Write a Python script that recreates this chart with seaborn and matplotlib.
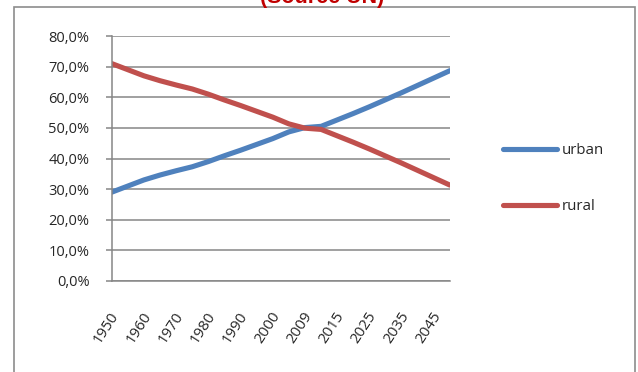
import pandas as pd
import matplotlib
matplotlib.use("Agg")
import matplotlib.pyplot as plt
import matplotlib.transforms as mtransforms
from matplotlib.lines import Line2D
from matplotlib.patches import Rectangle
from matplotlib.ticker import FuncFormatter
import seaborn as sns

# Datos (porcentaje de poblacion)
years = ["1950", "1955", "1960", "1965", "1970", "1975", "1980", "1985", "1990", "1995",
         "2000", "2005", "2009", "2010", "2015", "2020", "2025", "2030", "2035", "2040",
         "2045", "2050"]
urban = [29.0, 31.0, 33.0, 34.6, 36.0, 37.3, 39.0, 40.9, 42.7, 44.6,
         46.5, 48.7, 50.1, 50.5, 52.6, 54.7, 56.9, 59.2, 61.5, 63.9,
         66.3, 68.7]
rural = [71.0, 69.0, 67.0, 65.4, 64.0, 62.7, 61.0, 59.1, 57.3, 55.4,
         53.5, 51.3, 49.9, 49.5, 47.4, 45.3, 43.1, 40.8, 38.5, 36.1,
         33.7, 31.3]
series_names = ["urban", "rural"]
colors = {"urban": "#4F81BD", "rural": "#C0504D"}

df = pd.DataFrame({
    "pos": list(range(len(years))) * 2,
    "share": urban + rural,
    "area": ["urban"] * len(years) + ["rural"] * len(years),
})

sns.set_style("white")
plt.rcParams["font.family"] = ["Open Sans", "DejaVu Sans"]

fig = plt.figure(figsize=(6.38, 3.72), dpi=100)
ax = fig.add_axes([111.7 / 638, 91 / 372, 338.3 / 638, 245 / 372])

sns.lineplot(data=df, x="pos", y="share", hue="area", hue_order=series_names,
             palette=colors, linewidth=3.7, legend=False, ax=ax)
for ln in ax.get_lines():
    ln.set_solid_capstyle("round")
    ln.set_solid_joinstyle("round")

grey = "#868686"
ax.set_xlim(0, len(years) - 1)
ax.set_ylim(0, 80)
ax.set_yticks(range(0, 81, 10))
ax.yaxis.set_major_formatter(FuncFormatter(lambda v, p: f"{v:.1f}%".replace(".", ",")))
ax.grid(axis="y", color=grey, linewidth=1.1)
ax.set_axisbelow(True)

ax.set_xticks(range(len(years)))
ax.set_xticklabels([y if i % 2 == 0 else "" for i, y in enumerate(years)],
                   rotation=57, ha="right", va="center", rotation_mode="anchor")
ax.tick_params(axis="x", length=4, width=1.1, color=grey, pad=19, labelsize=10.8)
ax.tick_params(axis="y", length=4, width=1.1, color=grey, pad=12, labelsize=10.5,
               left=True)
# pequeño desplazamiento a la derecha de las etiquetas del eje x
shift = mtransforms.ScaledTranslation(4 / 100, 0, fig.dpi_scale_trans)
for lbl in ax.get_xticklabels():
    lbl.set_transform(lbl.get_transform() + shift)
ax.set_xlabel("")
ax.set_ylabel("")

for side in ["top", "right"]:
    ax.spines[side].set_visible(False)
for side in ["left", "bottom"]:
    ax.spines[side].set_color(grey)
    ax.spines[side].set_linewidth(1.1)

# Leyenda a la derecha
handles = [Line2D([], [], color=colors[n], linewidth=3.7, solid_capstyle="round")
           for n in series_names]
fig.legend(handles, series_names, loc="center left",
           bbox_to_anchor=(503 / 638, 1 - 178.4 / 372), frameon=False,
           fontsize=10.8, handlelength=3.6, handletextpad=0.3,
           labelspacing=2.75, borderpad=0, borderaxespad=0)

# Marco del grafico y titulo cortado arriba (como en el original)
fig.patches.append(Rectangle((13.5 / 638, -0.1), (635 - 13.5) / 638, 1.1 - 7 / 372,
                             transform=fig.transFigure, fill=False,
                             edgecolor="#8C8C8C", linewidth=1.2))
fig.text(322 / 638, 1 - 3 / 372, "(Source UN)", color="#C00000", fontsize=15.5,
         fontweight="bold", ha="center", va="baseline",
         family=["Liberation Sans", "DejaVu Sans"])

plt.savefig("out.png", dpi=100)
